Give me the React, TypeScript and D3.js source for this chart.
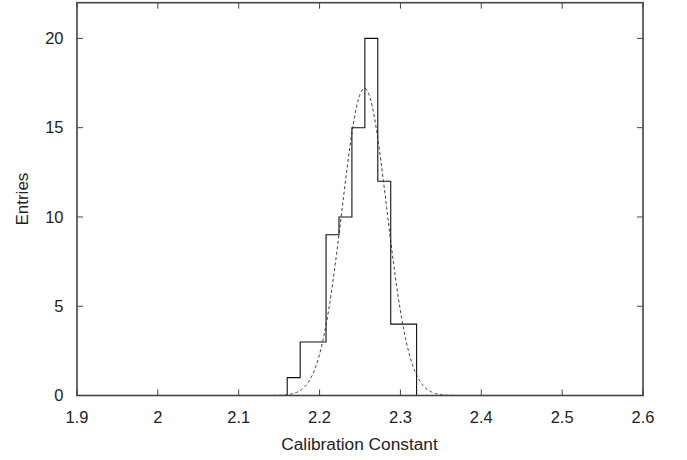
import React from "react";
import * as d3 from "d3";

const binEdges = [2.16, 2.176, 2.192, 2.208, 2.224, 2.24, 2.256, 2.272, 2.288, 2.304, 2.32];
const binCounts = [1, 3, 3, 9, 10, 15, 20, 12, 4, 4];
const xTicks = [1.9, 2.0, 2.1, 2.2, 2.3, 2.4, 2.5, 2.6];
const yTicks = [0, 5, 10, 15, 20];
const fitAmplitude = 17.2;
const fitMean = 2.2555;
const fitSigma = 0.0277;
const fitRange = [2.143, 2.366];
const xLabel = "Calibration Constant";
const yLabel = "Entries";

const W = 687;
const H = 460;
const M = { left: 77, right: 643, top: 2.7, bottom: 395.5 };

export default function App() {
  const x = d3.scaleLinear().domain([1.9, 2.6]).range([M.left, M.right]);
  const y = d3.scaleLinear().domain([0, 22]).range([M.bottom, M.top]);

  const pts: [number, number][] = [];
  pts.push([binEdges[0], 0]);
  binCounts.forEach((c, i) => {
    pts.push([binEdges[i], c]);
    pts.push([binEdges[i + 1], c]);
  });
  pts.push([binEdges[binEdges.length - 1], 0]);
  const histPath = d3
    .line<[number, number]>()
    .x((d) => x(d[0]))
    .y((d) => y(d[1]))(pts);

  const fitPts: [number, number][] = d3.range(0, 401).map((i) => {
    const xv = fitRange[0] + ((fitRange[1] - fitRange[0]) * i) / 400;
    const v = fitAmplitude * Math.exp(-((xv - fitMean) ** 2) / (2 * fitSigma ** 2));
    return [xv, v];
  });
  const fitPath = d3
    .line<[number, number]>()
    .x((d) => x(d[0]))
    .y((d) => y(d[1]))(fitPts);

  const font = "'Liberation Sans', Arial, Helvetica, sans-serif";
  const frameColor = "#444";
  const tickLen = 6;

  return (
    <svg
      width={W}
      height={H}
      style={{ position: "absolute", left: 0, top: 0, background: "#fff" }}
      fontFamily={font}
    >
      <rect x={0} y={0} width={W} height={H} fill="#fff" />
      <path d={histPath || ""} fill="none" stroke="#111" strokeWidth={1.1} />
      <path
        d={fitPath || ""}
        fill="none"
        stroke="#222"
        strokeWidth={0.9}
        strokeDasharray="3,2.5"
      />
      {xTicks.map((t) => (
        <g key={"xt" + t}>
          <line x1={x(t)} x2={x(t)} y1={M.bottom} y2={M.bottom - tickLen} stroke={frameColor} strokeWidth={1} />
          <line x1={x(t)} x2={x(t)} y1={M.top} y2={M.top + tickLen} stroke={frameColor} strokeWidth={1} />
          <text x={x(t)} y={423} textAnchor="middle" fontSize={16.5} fill="#222">
            {d3.format("")(+t.toFixed(1))}
          </text>
        </g>
      ))}
      {yTicks.map((t) => (
        <g key={"yt" + t}>
          <line x1={M.left} x2={M.left + tickLen} y1={y(t)} y2={y(t)} stroke={frameColor} strokeWidth={1} />
          <line x1={M.right} x2={M.right - tickLen} y1={y(t)} y2={y(t)} stroke={frameColor} strokeWidth={1} />
          <text x={63.5} y={y(t) + 5.8} textAnchor="end" fontSize={16.5} fill="#222">
            {t}
          </text>
        </g>
      ))}
      <rect
        x={M.left}
        y={M.top}
        width={M.right - M.left}
        height={M.bottom - M.top}
        fill="none"
        stroke={frameColor}
        strokeWidth={1.6}
      />
      <text x={(M.left + M.right) / 2 - 0.5} y={450} textAnchor="middle" fontSize={17.3} fill="#222">
        {xLabel}
      </text>
      <text
        transform={`translate(28,${(M.top + M.bottom) / 2}) rotate(-90)`}
        textAnchor="middle"
        fontSize={17}
        fill="#222"
      >
        {yLabel}
      </text>
    </svg>
  );
}
